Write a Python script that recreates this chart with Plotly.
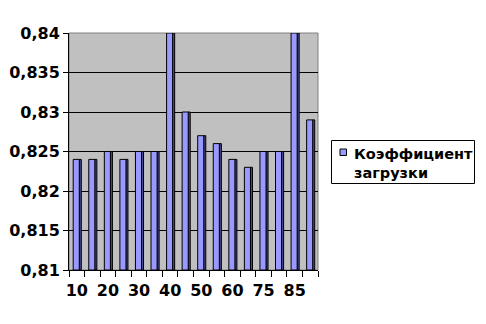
import plotly.graph_objects as go

categories = ["10", "15", "20", "25", "30", "35", "40", "45", "50", "55", "60", "70", "75", "80", "85", "90"]
values = [0.824, 0.824, 0.825, 0.824, 0.825, 0.825, 0.840, 0.830, 0.827, 0.826, 0.824, 0.823, 0.825, 0.825, 0.840, 0.829]
shown_labels = ["10", "20", "30", "40", "50", "60", "75", "85"]
y_ticks = [0.81, 0.815, 0.82, 0.825, 0.83, 0.835, 0.84]
series_name = "Коэффициент<br>загрузки"
y_base = 0.81

idx = list(range(len(categories)))
label_pos = [categories.index(c) for c in shown_labels]
heights = [v - y_base for v in values]

W, H = 486, 324
L, R, T, B = 69, 168, 33, 54
pw, ph = W - L - R, H - T - B


def px_x(x):
    return (x - L) / pw


def px_y(y):
    return (H - B - y) / ph


fig = go.Figure()
# side face (3D look)
fig.add_trace(go.Bar(
    x=idx, y=heights, base=y_base, width=0.14, offset=0.15,
    marker=dict(color="#4B4B8F", line=dict(color="black", width=1)),
    showlegend=False, hoverinfo="skip"))
# front face
fig.add_trace(go.Bar(
    x=idx, y=heights, base=y_base, width=0.39, offset=-0.23, name="Коэффициент загрузки",
    marker=dict(color="#9999FF", line=dict(color="black", width=1)),
    showlegend=False))

fig.update_layout(
    width=W, height=H,
    margin=dict(l=L, r=R, t=T, b=B, autoexpand=False),
    paper_bgcolor="white", plot_bgcolor="#C0C0C0",
    separators=",.",
    barmode="overlay",
    font=dict(family="DejaVu Sans", size=15, color="black"),
    showlegend=False,
    xaxis=dict(range=[-0.5, len(categories) - 0.5], tickvals=label_pos, ticktext=shown_labels,
               ticks="", showgrid=False, zeroline=False, ticklabelstandoff=6,
               showline=True, linecolor="black", linewidth=1,
               tickfont=dict(family="DejaVu Sans", size=16, color="black", weight="bold"),
               minor=dict(tickvals=[i - 0.5 for i in range(len(categories) + 1)], ticks="outside",
                          ticklen=6, tickcolor="black", showgrid=False)),
    yaxis=dict(range=[0.81, 0.84], tickvals=y_ticks, ticks="outside", ticklen=5, tickcolor="black",
               showgrid=True, gridcolor="black", gridwidth=1, zeroline=False,
               showline=True, linecolor="black", linewidth=1,
               tickfont=dict(family="DejaVu Sans", size=16, color="black", weight="bold")),
)
fig.add_shape(type="rect", xref="paper", yref="paper", x0=0, y0=0, x1=1, y1=1,
              line=dict(color="#808080", width=1), layer="below")
# legend box
fig.add_shape(type="rect", xref="paper", yref="paper",
              x0=px_x(331.5), x1=px_x(474.5), y0=px_y(183.5), y1=px_y(140.5),
              line=dict(color="black", width=1), fillcolor="white")
fig.add_shape(type="rect", xref="paper", yref="paper",
              x0=px_x(340), x1=px_x(346.5), y0=px_y(155.5), y1=px_y(149),
              line=dict(color="black", width=1), fillcolor="#9999FF")
fig.add_annotation(xref="paper", yref="paper", x=px_x(352), y=px_y(163),
                   xanchor="left", yanchor="middle", align="left", showarrow=False,
                   text=series_name,
                   font=dict(family="DejaVu Sans", size=14.5, color="black", weight="bold"))
fig.write_html("out.html")
